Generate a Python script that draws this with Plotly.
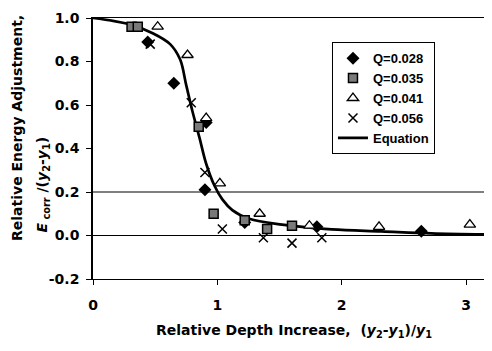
import plotly.graph_objects as go

# ---- data ----
q028_x = [0.44, 0.65, 0.90, 0.91, 1.22, 1.80, 2.64]
q028_y = [0.89, 0.70, 0.21, 0.52, 0.06, 0.04, 0.02]

q035_x = [0.31, 0.36, 0.85, 0.97, 1.22, 1.40, 1.60]
q035_y = [0.96, 0.96, 0.50, 0.10, 0.07, 0.03, 0.045]

q041_x = [0.52, 0.76, 0.91, 1.02, 1.34, 1.74, 2.30, 3.03]
q041_y = [0.96, 0.83, 0.54, 0.24, 0.10, 0.045, 0.04, 0.05]

q056_x = [0.46, 0.79, 0.90, 1.04, 1.37, 1.60, 1.84]
q056_y = [0.88, 0.61, 0.29, 0.03, -0.01, -0.035, -0.01]

eq_x = [0.0, 0.30, 0.48, 0.62, 0.70, 0.75, 0.80, 0.856, 0.91, 0.976, 1.04, 1.12,
        1.256, 1.52, 1.92, 2.32, 2.72, 3.18]
eq_y = [1.0, 0.97, 0.93, 0.88, 0.81, 0.69, 0.57, 0.45, 0.33, 0.23, 0.166, 0.117,
        0.077, 0.05, 0.028, 0.019, 0.01, 0.005]

x_ticks = [0, 1, 2, 3]
y_ticks = [-0.2, 0.0, 0.2, 0.4, 0.6, 0.8, 1.0]
y_ticklabels = ["-0.2", "0.0", "0.2", "0.4", "0.6", "0.8", "1.0"]
ref_lines = [0.0, 0.2]

legend_names = ["Q=0.028", "Q=0.035", "Q=0.041", "Q=0.056", "Equation"]

BOLD = dict(family="DejaVu Sans", size=14, color="black", weight="bold")

fig = go.Figure()
fig.add_trace(go.Scatter(x=eq_x, y=eq_y, mode="lines", name=legend_names[4],
                         line=dict(color="black", width=2.7, shape="spline"),
                         legendrank=5, cliponaxis=False))
fig.add_trace(go.Scatter(x=q028_x, y=q028_y, mode="markers", name=legend_names[0],
                         marker=dict(symbol="diamond", size=10, color="black"),
                         legendrank=1))
fig.add_trace(go.Scatter(x=q035_x, y=q035_y, mode="markers", name=legend_names[1],
                         marker=dict(symbol="square", size=9, color="#7a7a7a",
                                     line=dict(color="black", width=1.5)),
                         legendrank=2))
fig.add_trace(go.Scatter(x=q041_x, y=q041_y, mode="markers", name=legend_names[2],
                         marker=dict(symbol="triangle-up", size=10, color="white",
                                     line=dict(color="black", width=1.3)),
                         legendrank=3))
fig.add_trace(go.Scatter(x=q056_x, y=q056_y, mode="markers", name=legend_names[3],
                         marker=dict(symbol="x-thin", size=9, color="black",
                                     line=dict(color="black", width=1.5)),
                         legendrank=4))

for v in ref_lines:
    fig.add_shape(type="line", xref="paper", x0=0, x1=1, yref="y", y0=v, y1=v,
                  line=dict(color="black", width=1.2), layer="below")

# the page body adds an 8px offset, so the figure is sized to fit the window
fig.update_layout(
    width=484, height=343,
    margin=dict(l=85, r=2, t=2, b=72),
    paper_bgcolor="white", plot_bgcolor="white",
    showlegend=True,
    legend=dict(x=0.605, y=0.907, xanchor="left", yanchor="top",
                bordercolor="black", borderwidth=1, bgcolor="white",
                font=dict(family="Liberation Sans", size=13, color="black",
                          weight="bold"),
                traceorder="normal", tracegroupgap=0),
    xaxis=dict(range=[0, 3.176], tickvals=x_ticks, ticktext=[str(t) for t in x_ticks],
               showgrid=False, zeroline=False, showline=True, linecolor="black",
               linewidth=1, mirror=True, ticks="outside", ticklen=5,
               tickcolor="black", tickfont=BOLD, ticklabelstandoff=8,
               ticklabeloverflow="allow"),
    yaxis=dict(range=[-0.2, 1.0], tickvals=y_ticks, ticktext=y_ticklabels,
               showgrid=False, zeroline=False, showline=True, linecolor="black",
               linewidth=1.5, mirror=True, ticks="outside", ticklen=5,
               tickcolor="black", tickfont=BOLD, ticklabelstandoff=4,
               ticklabeloverflow="allow"),
)

fig.add_annotation(text="Relative Depth Increase,  (<i>y</i><sub>2</sub>-<i>y</i><sub>1</sub>)/<i>y</i><sub>1</sub>",
                   xref="paper", yref="paper", x=0.509, y=-0.2007,
                   xanchor="center", yanchor="middle", showarrow=False, font=BOLD)
fig.add_annotation(text="Relative Energy Adjustment,",
                   xref="paper", yref="paper", x=-0.194, y=0.58, textangle=-90,
                   xanchor="center", yanchor="middle", showarrow=False, font=BOLD)
fig.add_annotation(text="<i>E</i><sub> corr</sub> /(<i>y</i><sub>2</sub>-<i>y</i><sub>1</sub>)",
                   xref="paper", yref="paper", x=-0.126, y=0.171, textangle=-90,
                   xanchor="center", yanchor="bottom", showarrow=False, font=BOLD)

fig.write_html("out.html")
